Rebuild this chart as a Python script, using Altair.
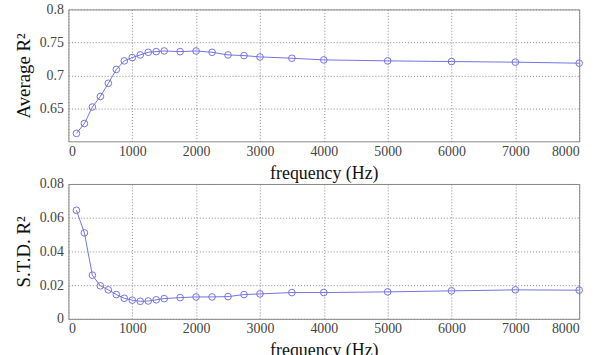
import altair as alt
import pandas as pd

freq = [125, 250, 375, 500, 625, 750, 875, 1000, 1125, 1250, 1375, 1500,
        1750, 2000, 2250, 2500, 2750, 3000, 3500, 4000, 5000, 6000, 7000, 8000]
avg_r2 = [0.612, 0.627, 0.652, 0.668, 0.688, 0.709, 0.722, 0.727, 0.731, 0.735, 0.736, 0.737,
          0.736, 0.737, 0.735, 0.731, 0.730, 0.728, 0.726, 0.7235, 0.722, 0.721, 0.720, 0.7185]
std_r2 = [0.0644, 0.0510, 0.0259, 0.0196, 0.0172, 0.0144, 0.0122, 0.0111, 0.0104, 0.0106, 0.0113, 0.0120,
          0.0126, 0.0130, 0.0130, 0.0132, 0.0144, 0.0148, 0.0156, 0.0156, 0.0160, 0.0166, 0.0172, 0.0170]

x_ticks = [0, 1000, 2000, 3000, 4000, 5000, 6000, 7000, 8000]
top_ticks = [0.65, 0.7, 0.75, 0.8]
bot_ticks = [0, 0.02, 0.04, 0.06, 0.08]

df = pd.DataFrame({"freq": freq, "avg": avg_r2, "std": std_r2})

COLOR = "#7272e4"
FONT = "Liberation Serif"

def xaxis():
    return alt.Axis(values=x_ticks, format="d", title="frequency (Hz)", ticks=False,
                    labelPadding=3, titlePadding=6, grid=True,
                    labelFont=FONT, titleFont=FONT, titleFontSize=18)

def panel(field, title, domain, ticks, h):
    base = alt.Chart(df).encode(
        x=alt.X("freq:Q", scale=alt.Scale(domain=[0, 8000], nice=False), axis=xaxis()),
        y=alt.Y(f"{field}:Q", scale=alt.Scale(domain=domain, nice=False, zero=False),
                axis=alt.Axis(values=ticks, format=".2~f", title=title, ticks=False,
                              labelPadding=5, titlePadding=2, minExtent=33, maxExtent=33,
                              labelFont=FONT, titleFont=FONT, titleFontSize=19)),
    )
    line = base.mark_line(color=COLOR, strokeWidth=1)
    pts = base.mark_point(shape="circle", filled=False, color=COLOR, size=45, strokeWidth=1, opacity=1)
    return (line + pts).properties(width=515, height=h)

top = panel("avg", "Average R²", [0.6, 0.8], top_ticks, 133)
bot = panel("std", "S.T.D. R²", [0, 0.08], bot_ticks, 136)

chart = alt.vconcat(top, bot, spacing=43, bounds="flush").properties(
    padding={"left": 14, "top": 0, "right": 17, "bottom": 0}
).configure(font=FONT).configure_axis(
    labelFont=FONT, titleFont=FONT, labelFontSize=14,
    labelColor="#444", titleColor="#111", titleFontWeight="normal",
    gridColor="#888", gridDash=[1, 2], gridWidth=1, domain=False,
).configure_view(stroke="#888", strokeWidth=1)

chart.save("out.html", embed_options={"renderer": "svg", "actions": False})
